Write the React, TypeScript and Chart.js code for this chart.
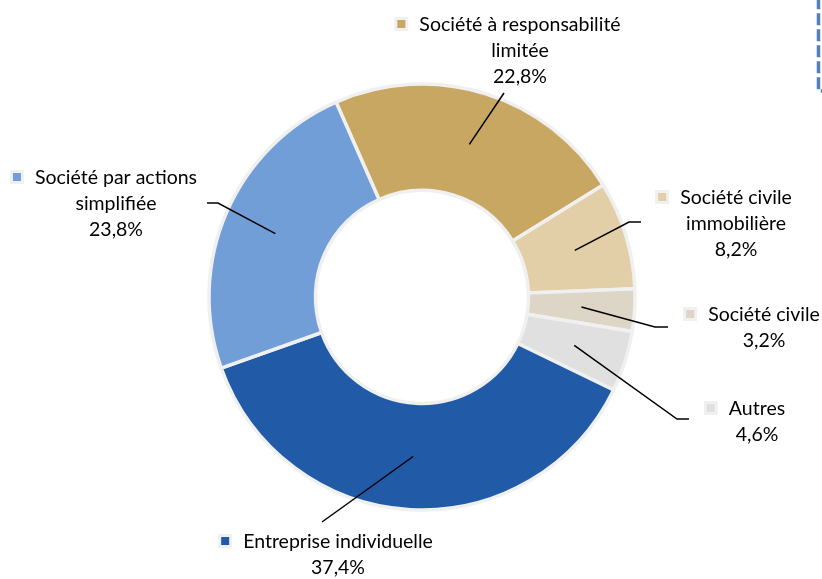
import { useEffect, useRef } from 'react';
import { Chart, registerables } from 'chart.js';

Chart.register(...registerables);

// ---- Data ----
const categories: string[] = [
  'Société à responsabilité\nlimitée',
  'Société civile\nimmobilière',
  'Société civile',
  'Autres',
  'Entreprise individuelle',
  'Société par actions\nsimplifiée',
];
const shares: number[] = [22.8, 8.2, 3.2, 4.6, 37.4, 23.8];
const sliceColors: string[] = ['#C8A762', '#E2CFA7', '#DDD5C5', '#E0E0E0', '#215BA8', '#729ED8'];

// ---- Label layout (text block centre x, first line middle y, leader path after centroid) ----
const labelLayout: { cx: number; y: number; path: number[][] }[] = [
  { cx: 520, y: 25, path: [[504, 93]] },
  { cx: 736, y: 198, path: [[629, 222], [641, 222]] },
  { cx: 764, y: 315, path: [[655, 327], [668, 327]] },
  { cx: 757, y: 409, path: [[677, 419], [689, 419]] },
  { cx: 338, y: 542, path: [[322, 522]] },
  { cx: 116, y: 178, path: [[218, 203], [207, 203]] },
];

const FONT = '19.5px Lato, "Open Sans", sans-serif';
const LINE_H = 26;

const fmt = (v: number) => v.toFixed(1).replace('.', ',') + '%';

const labelsPlugin = {
  id: 'customLabels',
  afterDraw(chart: any) {
    const ctx = chart.ctx as CanvasRenderingContext2D;
    const meta = chart.getDatasetMeta(0);
    ctx.save();
    // leader lines
    ctx.strokeStyle = '#000';
    ctx.lineWidth = 1.5;
    ctx.setLineDash([]);
    meta.data.forEach((arc: any, i: number) => {
      const p = arc.tooltipPosition();
      const lay = labelLayout[i];
      ctx.beginPath();
      ctx.moveTo(p.x, p.y);
      lay.path.forEach(([x, y]) => ctx.lineTo(x, y));
      ctx.stroke();
    });
    // texts
    ctx.font = FONT;
    ctx.textBaseline = 'middle';
    ctx.textAlign = 'center';
    categories.forEach((name, i) => {
      const lay = labelLayout[i];
      const lines = name.split('\n').concat([fmt(shares[i])]);
      lines.forEach((ln, k) => {
        ctx.fillStyle = '#000';
        ctx.fillText(ln, lay.cx, lay.y + k * LINE_H);
        if (k === 0) {
          const w = ctx.measureText(ln).width;
          const mx = lay.cx - w / 2 - 18;
          const my = lay.y - 1;
          ctx.fillStyle = '#F0F0F0';
          ctx.fillRect(mx - 7, my - 7, 14, 14);
          ctx.fillStyle = sliceColors[i];
          ctx.fillRect(mx - 4, my - 4, 8, 8);
        }
      });
    });
    // dashed frame fragment (top right)
    ctx.strokeStyle = '#4F81BD';
    ctx.lineWidth = 3.5;
    ctx.setLineDash([12, 4]);
    ctx.lineDashOffset = 2.7;
    ctx.beginPath();
    ctx.moveTo(818.5, 0);
    ctx.lineTo(818.5, 91);
    ctx.lineTo(824, 91);
    ctx.stroke();
    ctx.restore();
  },
};

export default function App() {
  const ref = useRef<HTMLCanvasElement | null>(null);
  useEffect(() => {
    document.body.style.margin = '0';
    const canvas = ref.current!;
    const chart = new Chart(canvas, {
      type: 'doughnut',
      data: {
        labels: categories,
        datasets: [
          {
            data: shares,
            backgroundColor: sliceColors,
            borderColor: '#F0F0F0',
            borderWidth: 3.5,
            hoverOffset: 0,
          },
        ],
      },
      options: {
        responsive: false,
        animation: false,
        rotation: -23.8,
        radius: 213,
        cutout: '50%',
        layout: { padding: { left: 22, right: 0, top: 15, bottom: 0 } },
        plugins: {
          legend: { display: false },
          tooltip: { enabled: false },
        },
      },
      plugins: [labelsPlugin],
    });
    return () => chart.destroy();
  }, []);
  return (
    <div style={{ position: 'fixed', left: 0, top: 0, width: 822, height: 579, background: '#fff' }}>
      <canvas ref={ref} width={822} height={579} style={{ width: 822, height: 579, display: 'block' }} />
    </div>
  );
}
